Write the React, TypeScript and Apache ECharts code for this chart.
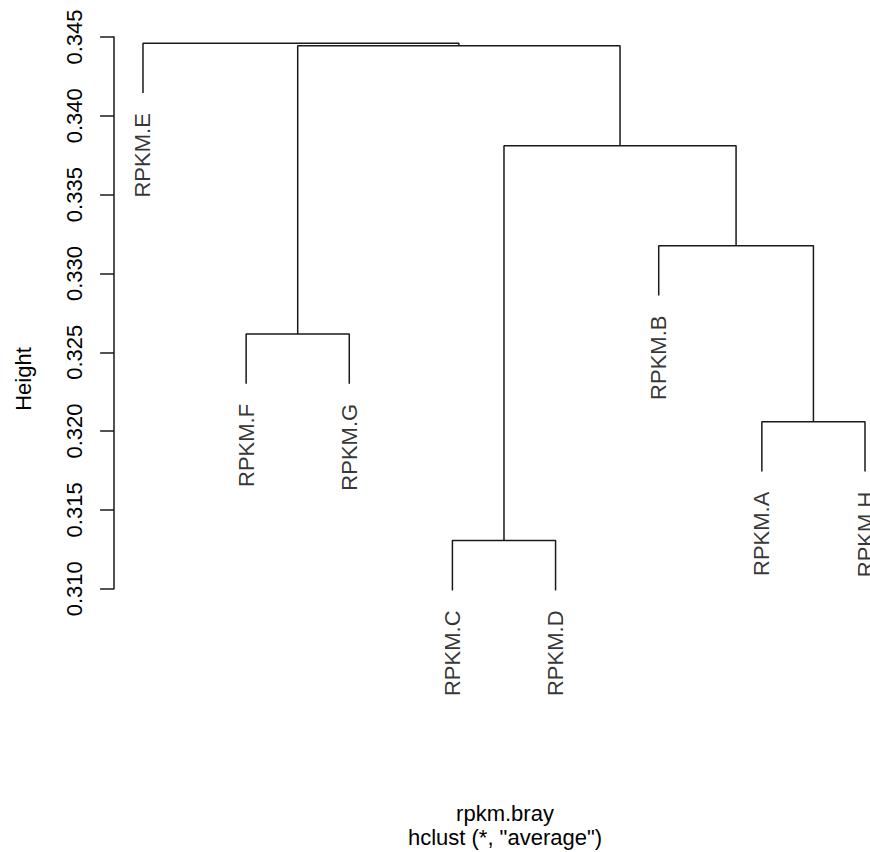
import React, { useEffect, useRef } from "react";
import * as echarts from "echarts";

// Leaves in plotting order (positions 1..8)
const leafNames = ["RPKM.E", "RPKM.F", "RPKM.G", "RPKM.C", "RPKM.D", "RPKM.B", "RPKM.A", "RPKM.H"];
// Height at which each leaf's branch ends
const leafTips = [0.34144, 0.323, 0.323, 0.30989, 0.30989, 0.3286, 0.31743, 0.31743];
// Merge steps (R hclust style: negative = leaf position, positive = earlier merge)
const mergeLeft = [-2, -4, -7, -6, 2, 1, -1];
const mergeRight = [-3, -5, -8, 3, 4, 5, 6];
const mergeHeights = [0.32616, 0.31305, 0.32059, 0.33176, 0.3381, 0.34445, 0.3446];
// Y axis ticks
const yMin = 0.31;
const yMax = 0.345;
const yStep = 0.005;

const FONT = "'Liberation Sans', Arial, Helvetica, sans-serif";
const INK = "#1a1a1a";

export default function App() {
  const ref = useRef<HTMLDivElement>(null);
  useEffect(() => {
    if (!ref.current) return;
    const chart = echarts.init(ref.current, undefined, { renderer: "svg" });

    const clusterX: number[] = [];
    const nodeX = (r: number) => (r < 0 ? -r : clusterX[r - 1]);
    const nodeY = (r: number) => (r < 0 ? leafTips[-r - 1] : mergeHeights[r - 1]);
    const lineSeries: any[] = [];
    mergeHeights.forEach((h, i) => {
      const l = mergeLeft[i];
      const r = mergeRight[i];
      const xl = nodeX(l);
      const xr = nodeX(r);
      clusterX.push((xl + xr) / 2);
      lineSeries.push({
        type: "line",
        data: [
          [xl, nodeY(l)],
          [xl, h],
          [xr, h],
          [xr, nodeY(r)],
        ],
        symbol: "none",
        clip: false,
        silent: true,
        lineStyle: { color: INK, width: 1.5 },
      });
    });

    chart.setOption({
      animation: false,
      grid: { left: 114.1, top: 37, right: 5, bottom: 263.3 },
      title: {
        text: 'rpkm.bray\nhclust (*, "average")',
        left: 505,
        top: 801,
        textAlign: "center",
        padding: 0,
        textStyle: { fontFamily: FONT, fontSize: 22, fontWeight: "normal", color: "#000", lineHeight: 24 },
      },
      xAxis: {
        type: "value",
        min: 0.72,
        max: 8,
        show: false,
      },
      yAxis: {
        type: "value",
        min: yMin,
        max: yMax,
        interval: yStep,
        axisLine: { show: true, lineStyle: { color: INK, width: 1.5 } },
        axisTick: { show: true, length: 14, lineStyle: { color: INK, width: 1.5 } },
        splitLine: { show: false },
        axisLabel: {
          rotate: 90,
          margin: 29,
          fontFamily: FONT,
          fontSize: 22,
          color: "#000",
          formatter: (v: number) => v.toFixed(3),
        },
      },
      graphic: [
        {
          type: "text",
          x: 23,
          y: 379,
          rotation: Math.PI / 2,
          style: {
            text: "Height",
            fontFamily: FONT,
            fontSize: 22,
            fill: "#000",
            align: "center",
            verticalAlign: "middle",
          },
        },
      ],
      series: [
        ...lineSeries,
        {
          type: "scatter",
          symbolSize: 0.1,
          silent: true,
          clip: false,
          itemStyle: { color: "rgba(0,0,0,0)" },
          data: leafNames.map((n, i) => ({ name: n, value: [i + 1, leafTips[i]] })),
          label: {
            show: true,
            position: "bottom",
            distance: 20,
            rotate: 90,
            align: "right",
            verticalAlign: "middle",
            formatter: (p: any) => p.name,
            fontFamily: FONT,
            fontSize: 22,
            color: "#000",
          },
        },
      ],
    });
    return () => chart.dispose();
  }, []);
  return (
    <div
      ref={ref}
      style={{ position: "absolute", left: 0, top: 0, width: 870, height: 852, background: "#fff" }}
    />
  );
}
